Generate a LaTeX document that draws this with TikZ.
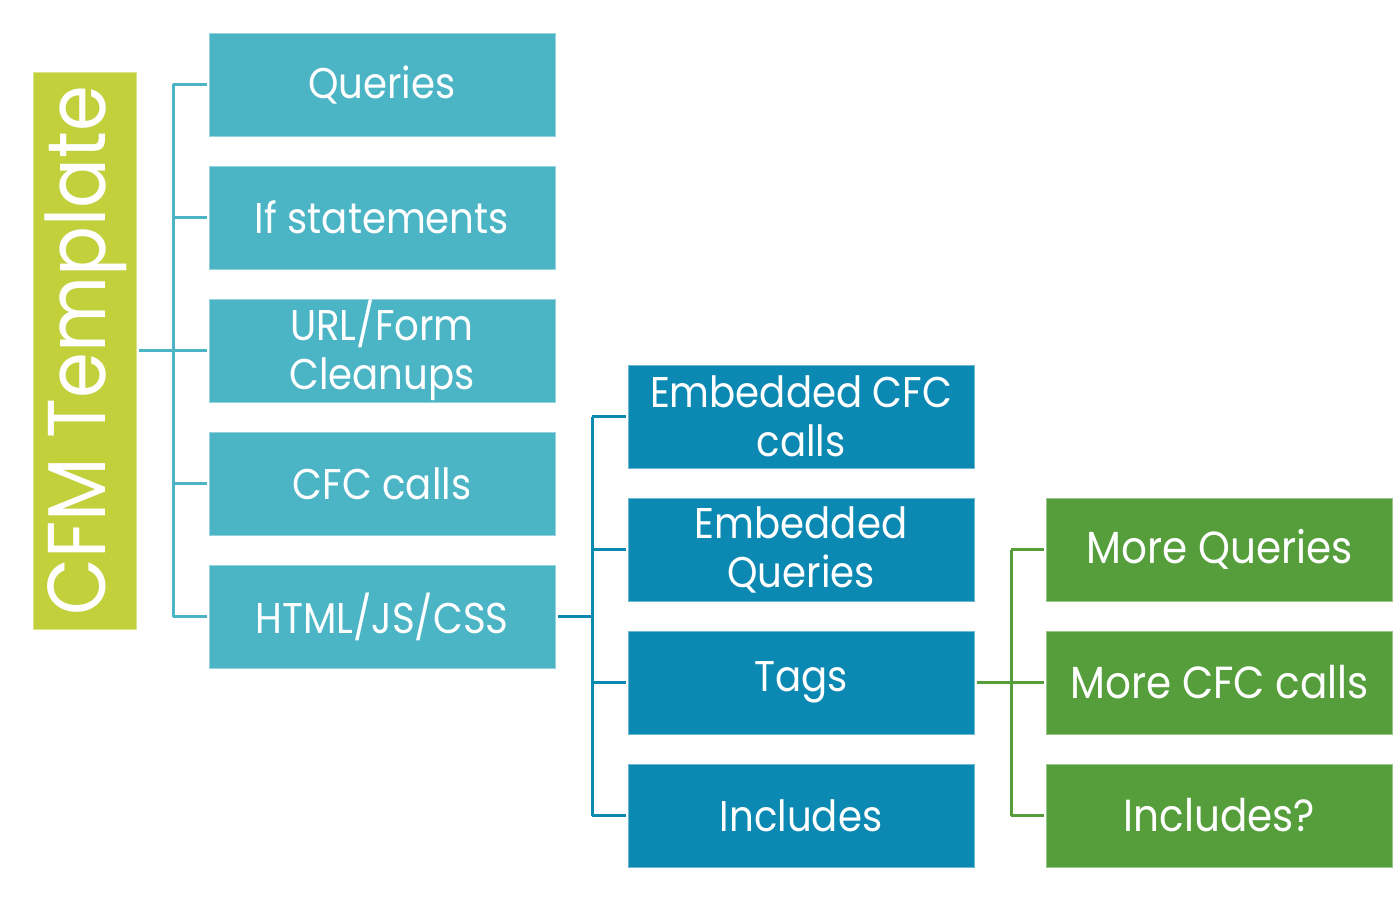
\documentclass[tikz,border=0pt]{standalone}
\usepackage{fontspec}
\setmainfont{Poppins}[FakeStretch=0.9]
\definecolor{cfmgreen}{RGB}{194,208,60}
\definecolor{tealA}{RGB}{75,181,198}
\definecolor{tealB}{RGB}{12,137,178}
\definecolor{leaf}{RGB}{85,158,59}
\tikzset{
  boxbase/.style={rectangle, inner sep=0pt, minimum width=173pt, minimum height=51.5pt,
    text=white, align=center, line width=0.3pt},
  boxA/.style={boxbase, fill=tealA, draw=tealA!60!white, font=\fontsize{21.5}{24.5}\selectfont},
  boxB/.style={boxbase, fill=tealB, draw=tealB!60!white, font=\fontsize{21.5}{24.5}\selectfont},
  boxC/.style={boxbase, fill=leaf, draw=leaf!60!white, font=\fontsize{22.5}{25}\selectfont},
  linkA/.style={draw=tealA, line width=1.5pt},
  linkB/.style={draw=tealB, line width=1.5pt},
  linkC/.style={draw=leaf, line width=1.5pt},
}
\begin{document}
\begin{tikzpicture}[x=0.5pt,y=-0.5pt]
\useasboundingbox (0,0) rectangle (1395,899);
% root
\node[rectangle, fill=cfmgreen, draw=cfmgreen!60!white, line width=0.3pt, inner sep=0pt,
  minimum width=51.5pt, minimum height=278.5pt] (cfm) at (84.5,350.5) {};
\node[rotate=90, text=white, font=\fontsize{41}{41}\selectfont, inner sep=0pt] (cfmt) at (86,351) {CFM Template};
% column 1
\node[boxA] (q)   at (382,84.5)  {Queries};
\node[boxA] (ifs) at (382,217.5) {If statements};
\node[boxA] (url) at (382,350.5) {URL/Form\\Cleanups};
\node[boxA] (cfc) at (382,483.5) {CFC calls};
\node[boxA] (htm) at (382,616.5) {HTML/JS/CSS};
% column 2
\node[boxB] (ecfc) at (801,416.5) {Embedded CFC\\calls};
\node[boxB] (eq)   at (801,549.5) {Embedded\\Queries};
\node[boxB] (tags) at (801,682.5) {Tags};
\node[boxB] (inc)  at (801,815.5) {Includes};
% column 3
\node[boxC] (mq)   at (1219.5,549.5) {More Queries};
\node[boxC] (mcfc) at (1219.5,682.5) {More CFC calls};
\node[boxC] (inc2) at (1219.5,815.5) {Includes?};
% trunks
\coordinate (t1) at (173,0);
\coordinate (t2) at (592,0);
\coordinate (t3) at (1011,0);
% level 1 connectors
\draw[linkA, shorten <=1.5pt] (cfm.east) -- (t1 |- cfm.east);
\draw[linkA] (t1 |- q.west) -- (t1 |- htm.west);
\foreach \n in {q,ifs,url,cfc,htm}
  \draw[linkA, shorten >=1pt] (t1 |- \n.west) -- (\n.west);
% level 2 connectors
\draw[linkB, shorten <=1.5pt] (htm.east) -- (t2 |- htm.east);
\draw[linkB] (t2 |- ecfc.west) -- (t2 |- inc.west);
\foreach \n in {ecfc,eq,tags,inc}
  \draw[linkB, shorten >=1pt] (t2 |- \n.west) -- (\n.west);
% level 3 connectors
\draw[linkC, shorten <=1.5pt] (tags.east) -- (t3 |- tags.east);
\draw[linkC] (t3 |- mq.west) -- (t3 |- inc2.west);
\foreach \n in {mq,mcfc,inc2}
  \draw[linkC, shorten >=1pt] (t3 |- \n.west) -- (\n.west);
\end{tikzpicture}
\end{document}
